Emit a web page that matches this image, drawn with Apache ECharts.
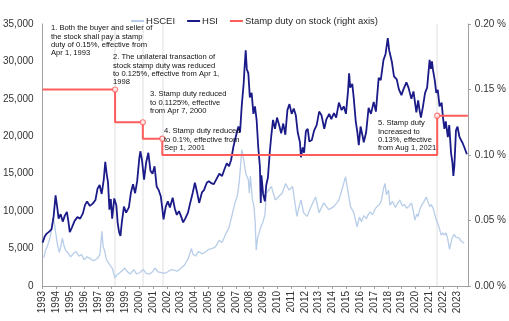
<!DOCTYPE html>
<html><head><meta charset="utf-8">
<script src="https://cdn.jsdelivr.net/npm/echarts@6/dist/echarts.min.js"></script>
<style>html,body{margin:0;padding:0;background:#fff}#c{width:509px;height:321px}</style>
</head><body><div id="c"></div>
<script>
// HSI (left axis), [year, index level]
const hsi = [
[1993.0,5800],[1993.15,6600],[1993.3,7000],[1993.5,7300],[1993.65,7600],[1993.8,9300],[1993.94,12100],
[1994.06,10500],[1994.16,9000],[1994.31,9600],[1994.46,8600],[1994.61,9400],[1994.76,9900],[1994.87,8600],[1994.97,7200],
[1995.12,7800],[1995.32,8700],[1995.52,9200],[1995.72,9000],[1995.92,9700],
[1996.07,10800],[1996.22,11300],[1996.43,10700],[1996.63,11000],[1996.83,11500],[1996.98,13000],
[1997.13,13500],[1997.28,12300],[1997.43,14200],[1997.54,16600],[1997.64,15000],[1997.74,13800],[1997.84,10200],[1997.94,11600],
[1998.04,9000],[1998.19,11700],[1998.34,10800],[1998.44,8400],[1998.54,7200],[1998.64,6700],[1998.74,8500],[1998.89,10600],
[1999.05,9800],[1999.25,10500],[1999.4,12500],[1999.55,13600],[1999.7,12400],[1999.85,14000],
[2000.0,17000],[2000.08,18000],[2000.2,16800],[2000.35,14200],[2000.5,16500],[2000.66,17800],[2000.81,15400],[2000.96,15000],
[2001.11,16000],[2001.26,13300],[2001.41,12800],[2001.56,12000],[2001.66,10500],[2001.76,8900],[2001.92,10600],
[2002.07,11300],[2002.22,10500],[2002.42,11800],[2002.57,10400],[2002.72,9500],[2002.88,10000],
[2003.03,9300],[2003.18,8500],[2003.33,9000],[2003.53,9800],[2003.68,11000],[2003.88,12500],
[2004.03,13800],[2004.19,12500],[2004.34,11100],[2004.54,12500],[2004.69,12800],[2004.89,13800],
[2005.04,14000],[2005.25,13700],[2005.4,13600],[2005.6,14300],[2005.8,15000],
[2006.0,14700],[2006.15,15500],[2006.34,16400],[2006.5,16000],[2006.65,16800],[2006.82,18600],
[2007.0,20000],[2007.18,21300],[2007.3,20500],[2007.42,24000],[2007.56,27000],[2007.64,29500],[2007.71,31500],[2007.79,29000],[2007.9,28400],
[2008.01,25200],[2008.14,25800],[2008.27,23000],[2008.38,24000],[2008.5,22200],[2008.62,18500],[2008.74,15900],[2008.8,11100],[2008.85,14800],[2008.97,12300],
[2009.1,11300],[2009.2,13500],[2009.32,14500],[2009.45,17800],[2009.57,20200],[2009.69,22200],[2009.83,21000],[2009.98,22500],
[2010.13,21500],[2010.28,20400],[2010.43,21700],[2010.58,20200],[2010.73,23500],[2010.88,24300],
[2011.04,23000],[2011.19,23700],[2011.34,22800],[2011.48,20500],[2011.64,19200],[2011.71,17200],[2011.84,18500],[2011.94,17800],
[2012.07,20700],[2012.2,21000],[2012.32,19300],[2012.5,19500],[2012.67,20800],[2012.85,21500],
[2013.03,23300],[2013.2,22800],[2013.4,21000],[2013.56,22300],[2013.76,23000],[2013.91,22300],
[2014.1,23100],[2014.26,22500],[2014.46,24500],[2014.66,23500],[2014.81,24000],[2014.97,23000],
[2015.12,26000],[2015.2,28400],[2015.28,26500],[2015.43,27000],[2015.53,25200],[2015.68,22000],[2015.8,20500],[2015.9,18800],
[2016.03,21300],[2016.18,20000],[2016.26,19200],[2016.43,20500],[2016.61,23800],[2016.78,23000],[2016.98,24600],
[2017.14,23300],[2017.34,27800],[2017.49,27500],[2017.69,30200],[2017.84,31000],
[2018.0,33100],[2018.1,31500],[2018.29,30000],[2018.45,28000],[2018.65,27600],[2018.8,26300],[2018.99,25500],
[2019.14,26300],[2019.35,27200],[2019.5,26500],[2019.71,25000],[2019.86,26000],
[2020.07,23200],[2020.2,24800],[2020.3,23500],[2020.4,22500],[2020.55,24000],[2020.7,25800],[2020.85,26500],
[2021.03,30200],[2021.12,29000],[2021.2,30000],[2021.27,28900],[2021.4,27500],[2021.51,25800],[2021.62,26200],[2021.75,24000],[2021.9,24500],
[2022.0,22500],[2022.1,21000],[2022.2,22000],[2022.35,19900],[2022.45,21500],[2022.58,17800],[2022.68,16500],[2022.75,14700],[2022.82,16000],[2022.94,20800],
[2023.05,21300],[2023.18,20000],[2023.3,19500],[2023.42,19100],[2023.55,18500],[2023.73,17600]
];

// HSCEI (left axis), [year, index level]
const hscei = [
[1993.1,3800],[1993.2,4700],[1993.35,5300],[1993.5,6200],[1993.65,7500],[1993.78,9200],[1993.9,7800],
[1994.06,5700],[1994.21,4500],[1994.31,5200],[1994.43,6400],[1994.56,5300],[1994.66,4800],[1994.81,4500],
[1995.03,3900],[1995.22,4300],[1995.44,4600],[1995.62,4000],[1995.82,4200],
[1996.0,3500],[1996.22,3900],[1996.43,3700],[1996.63,3400],[1996.83,3500],[1996.98,3700],
[1997.15,4200],[1997.23,4300],[1997.3,7300],[1997.39,5200],[1997.48,4800],[1997.63,3500],[1997.88,2800],
[1998.04,2400],[1998.24,1100],[1998.39,1500],[1998.54,1700],[1998.74,2000],[1998.96,2400],
[1999.15,1900],[1999.35,1600],[1999.6,2200],[1999.81,1600],
[2000.05,1800],[2000.3,2200],[2000.5,1700],[2000.76,1600],[2000.96,1900],
[2001.13,2400],[2001.36,1900],[2001.61,1800],[2001.86,1700],
[2002.07,1900],[2002.32,2200],[2002.57,2100],[2002.77,2000],[2002.98,2300],
[2003.28,2800],[2003.53,3600],[2003.78,5000],[2003.9,4200],
[2004.08,4000],[2004.28,4600],[2004.59,4300],[2004.84,4600],
[2005.04,4900],[2005.25,5000],[2005.5,5200],[2005.8,6100],
[2006.0,5800],[2006.28,7000],[2006.5,7800],[2006.75,9700],[2006.95,11200],
[2007.1,12000],[2007.23,13700],[2007.36,16500],[2007.42,18200],[2007.49,17700],[2007.6,16400],[2007.72,15000],[2007.9,14200],
[2007.97,12400],[2008.05,14700],[2008.2,11500],[2008.31,10600],[2008.4,8400],[2008.47,4800],[2008.58,6500],[2008.74,7500],[2008.97,8600],
[2009.1,9500],[2009.21,12400],[2009.57,13300],[2009.85,11500],
[2010.35,12400],[2010.6,13700],[2010.85,12800],
[2011.1,13300],[2011.42,9300],[2011.6,10800],[2011.72,11500],[2011.9,9800],
[2012.15,9300],[2012.42,10500],[2012.77,11900],
[2013.02,9800],[2013.37,11100],[2013.72,10200],
[2014.1,10600],[2014.47,11500],[2014.94,14600],
[2015.06,14400],[2015.3,10600],[2015.54,9800],[2015.78,7900],[2015.95,9200],
[2016.1,8600],[2016.26,9400],[2016.45,9000],[2016.6,9600],[2016.73,9900],[2016.9,9500],
[2017.05,10200],[2017.21,10600],[2017.4,10900],[2017.55,11500],[2017.69,13000],[2017.8,13700],[2017.9,12200],
[2018.05,12800],[2018.16,10800],[2018.35,11300],[2018.55,10500],[2018.7,11000],[2018.88,11500],
[2019.05,10700],[2019.2,10900],[2019.36,10400],[2019.55,10700],[2019.72,11100],[2019.85,10000],[2019.96,8800],
[2020.1,9600],[2020.2,9300],[2020.31,10200],[2020.45,10800],[2020.6,11200],[2020.79,11900],[2020.9,11300],
[2021.03,10600],[2021.15,10900],[2021.3,10300],[2021.51,8800],[2021.62,8400],[2021.75,7600],[2021.87,6800],
[2022.0,7100],[2022.1,6800],[2022.23,7100],[2022.35,6200],[2022.47,4900],[2022.55,5600],[2022.65,6300],[2022.8,6900],[2022.95,6500],
[2023.05,6600],[2023.18,6400],[2023.3,6000],[2023.42,6100],[2023.54,5700]
];

// Stamp duty rate (%, right axis) as step vertices
const stampDates = [1993.0, 1998.25, 1998.25, 2000.26, 2000.26, 2001.67, 2001.67, 2021.58, 2021.58, 2023.8];
const stampRates = [0.15, 0.15, 0.125, 0.125, 0.1125, 0.1125, 0.1, 0.1, 0.13, 0.13];
const markerIdx = [1, 3, 5, 8];
const changeDates = [1998.25, 2000.26, 2001.67, 2021.58];

const seriesNames = ['HSCEI', 'HSI', 'Stamp duty on stock (right axis)'];
const notes = [
  '1. Both the buyer and seller of\nthe stock shall pay a stamp\nduty of 0.15%, effective from\nApr 1, 1993',
  '2. The unilateral transaction of\nstock stamp duty was reduced\nto 0.125%, effective from Apr 1,\n1998',
  '3. Stamp duty reduced\nto 0.1125%, effective\nfrom Apr 7, 2000',
  '4. Stamp duty reduced\nto 0.1%, effective from\nSep 1, 2001',
  '5. Stamp duty\nIncreased to\n0.13%, effective\nfrom Aug 1, 2021'
];
const notePos = [[51,24],[113,53],[150,90],[164,127],[378,119]];

const F = '"Liberation Sans", Arial, sans-serif';
const FN = '"Liberation Sans Narrow", "Arial Narrow", sans-serif';
const chart = echarts.init(document.getElementById('c'), null, {renderer: 'canvas'});

const stampLine = stampDates.map((d, i) => [d, stampRates[i]]);
const stampMarks = markerIdx.map(i => [stampDates[i], stampRates[i]]);
const RED = '#ff5c5c';

const option = {
  animation: false,
  backgroundColor: '#fff',
  grid: {left: 42, right: 37, top: 24, bottom: 35},
  legend: {
    top: 11, left: 'center', icon: 'rect', itemWidth: 13, itemHeight: 2, itemGap: 12,
    textStyle: {fontFamily: F, fontSize: 9.5, color: '#262626', padding: [0, 0, 0, -3]},
    data: seriesNames
  },
  xAxis: {
    type: 'value', min: 1993, max: 2023.8, interval: 1,
    axisLine: {lineStyle: {color: '#a0a0a0'}},
    axisTick: {length: 3, lineStyle: {color: '#a0a0a0'}},
    splitLine: {show: false},
    axisLabel: {rotate: 90, margin: 5, fontSize: 10, fontFamily: F, color: '#333',
      showMaxLabel: false,
      formatter: v => Number.isInteger(v) ? String(v) : ''}
  },
  yAxis: [{
    type: 'value', min: 0, max: 35000, interval: 5000,
    axisLine: {show: true, lineStyle: {color: '#a0a0a0'}},
    axisTick: {show: false},
    splitLine: {show: false},
    axisLabel: {margin: 9, fontSize: 10, fontFamily: F, color: '#333',
      formatter: v => v.toLocaleString('en-US')}
  }, {
    type: 'value', min: 0, max: 0.2, interval: 0.05, position: 'right',
    axisLine: {show: true, lineStyle: {color: '#a0a0a0'}},
    axisTick: {show: true, length: 3, lineStyle: {color: '#a0a0a0'}},
    splitLine: {show: false},
    axisLabel: {margin: 7, fontSize: 10, fontFamily: F, color: '#333',
      formatter: v => v.toFixed(2) + ' %'}
  }],
  series: [{
    type: 'line', name: '_bands', data: [], z: 1, silent: true,
    markLine: {silent: true, z: 1, symbol: 'none', label: {show: false},
      lineStyle: {color: '#efefef', width: 2, type: 'solid', opacity: 1},
      data: changeDates.map(d => ({xAxis: d}))}
  }, {
    type: 'line', name: seriesNames[0], data: hscei, symbol: 'none', z: 2,
    lineStyle: {color: '#b7cde8', width: 1.3}, itemStyle: {color: '#b7cde8'}
  }, {
    type: 'line', name: seriesNames[1], data: hsi, symbol: 'none', z: 3,
    lineStyle: {color: '#1a1a88', width: 1.8}, itemStyle: {color: '#1a1a88'}
  }, {
    type: 'line', name: seriesNames[2], yAxisIndex: 1, data: stampLine, symbol: 'none', z: 4,
    lineStyle: {color: RED, width: 2}, itemStyle: {color: RED}
  }, {
    type: 'scatter', name: '_marks', yAxisIndex: 1, data: stampMarks, z: 5, silent: true,
    symbol: 'circle', symbolSize: 5,
    itemStyle: {color: '#fff', borderColor: RED, borderWidth: 1.2}
  }],
  graphic: notes.map((t, i) => ({
    type: 'text', x: notePos[i][0], y: notePos[i][1], z: 100,
    style: {text: t, fontSize: 7.6, fontFamily: FN, fill: '#111', lineHeight: 8.3}
  }))
};
chart.setOption(option);
</script></body></html>
